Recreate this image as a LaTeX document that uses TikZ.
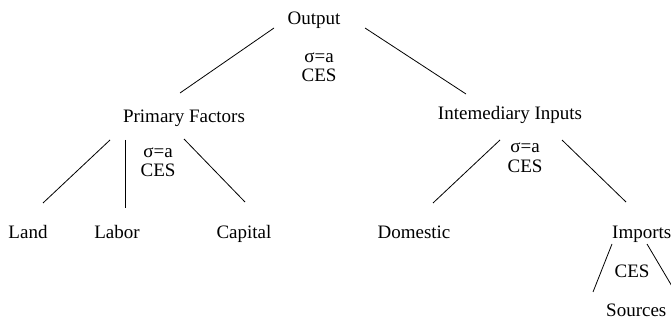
\documentclass[tikz,border=0pt]{standalone}
\usepackage{fontspec}
\setmainfont{Liberation Serif}
\tikzset{
  lbl/.style={font=\fontsize{19}{21}\selectfont, inner sep=0pt, anchor=base},
  branch/.style={draw=black, line width=0.8pt}
}

\begin{document}
\begin{tikzpicture}[x=1pt, y=-1pt]
    \useasboundingbox (0,0) rectangle (671,320);
    \clip (0,0) rectangle (671,320);
    % top level
    \node[lbl] (output) at (314,25) {Output};
    \node[lbl] (sig0) at (319,63) {σ=a};
    \node[lbl] (ces0) at (319,82) {CES};
    \node[lbl] (prim) at (184,123) {Primary Factors};
    \node[lbl] (inter) at (510,120) {Intemediary Inputs};
    % primary factors nest
    \node[lbl] (sig1) at (158,158) {σ=a};
    \node[lbl] (ces1) at (158,177) {CES};
    \node[lbl] (land) at (28,238) {Land};
    \node[lbl] (labor) at (117,238) {Labor};
    \node[lbl] (capital) at (244,238) {Capital};
    % intermediate nest
    \node[lbl] (sig2) at (525,153) {σ=a};
    \node[lbl] (ces2) at (525,173) {CES};
    \node[lbl] (domestic) at (414,238) {Domestic};
    \node[lbl,anchor=base west] (imports) at (612,238) {Imports};
    \node[lbl] (ces3) at (632,277) {CES};
    \node[lbl,anchor=base west] (sources) at (606,316) {Sources};
    % branch end points
    \coordinate (output-l) at (274,28);
    \coordinate (output-r) at (365,28);
    \coordinate (prim-in) at (180,93);
    \coordinate (inter-in) at (466,94);
    \coordinate (prim-l) at (110,140);
    \coordinate (prim-m) at (125,140);
    \coordinate (prim-r) at (184,139);
    \coordinate (land-in) at (43,203);
    \coordinate (labor-in) at (125,208);
    \coordinate (capital-in) at (245,202);
    \coordinate (inter-l) at (500,140);
    \coordinate (inter-r) at (562,140);
    \coordinate (domestic-in) at (433,203);
    \coordinate (imports-in) at (626,202);
    \coordinate (imports-l) at (612,244);
    \coordinate (imports-r) at (647,244);
    \coordinate (src-l) at (593,292);
    \coordinate (src-r) at (676,293);
    \draw[branch] (output-l) -- (prim-in);
    \draw[branch] (output-r) -- (inter-in);
    \draw[branch] (prim-l) -- (land-in);
    \draw[branch] (prim-m) -- (labor-in);
    \draw[branch] (prim-r) -- (capital-in);
    \draw[branch] (inter-l) -- (domestic-in);
    \draw[branch] (inter-r) -- (imports-in);
    \draw[branch] (imports-l) -- (src-l);
    \draw[branch] (imports-r) -- (src-r);
\end{tikzpicture}
\end{document}
